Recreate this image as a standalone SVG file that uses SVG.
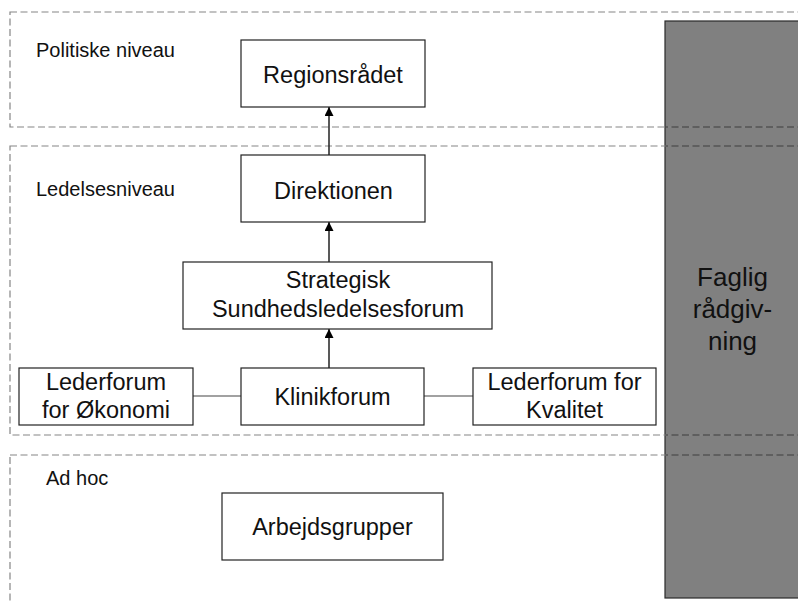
<svg xmlns="http://www.w3.org/2000/svg" width="798" height="603" viewBox="0 0 798 603">
<defs>
<marker id="arr" viewBox="0 0 10 10" refX="10" refY="5" markerWidth="9" markerHeight="9" markerUnits="userSpaceOnUse" orient="auto">
<path d="M0,0 L10,5 L0,10 z" fill="#000"/>
</marker>
<style>
.band{fill:none;stroke:#858585;stroke-width:1.2;stroke-dasharray:7,3.5}
.bandd{fill:none;stroke:#3c3c3c;stroke-width:1.2;stroke-dasharray:7,3.5}
.box{fill:#fff;stroke:#222;stroke-width:1.2}
.t{font-family:"Liberation Sans",Arial,sans-serif;font-size:23.5px;fill:#111;text-anchor:middle}
.f{font-family:"Liberation Sans",Arial,sans-serif;font-size:26px;fill:#111;text-anchor:middle}
.lbl{font-family:"Liberation Sans",Arial,sans-serif;font-size:20px;fill:#111}
.con{stroke:#222;stroke-width:1.5;fill:none}
.line{stroke:#444;stroke-width:1.2;fill:none}
</style>
</defs>
<rect width="798" height="603" fill="#fff"/>
<g id="faglig">
<rect x="665" y="21" width="140" height="577" fill="#808080" stroke="#2a2a2a" stroke-width="1.2"/>
<text class="f" x="732.5" y="286">Faglig</text>
<text class="f" x="732.5" y="318">rådgiv-</text>
<text class="f" x="732.5" y="350">ning</text>
</g>
<g id="bands">
<rect class="band" x="10" y="12" width="800" height="115"/>
<rect class="band" x="10" y="146" width="800" height="289"/>
<rect class="band" x="10" y="455" width="800" height="160"/>
<path class="bandd" d="M10,127 H810 M10,146 H810 M10,435 H810 M10,455 H810" stroke-dashoffset="0" clip-path="url(#gc)"/>
</g>
<clipPath id="gc"><rect x="665.6" y="21.6" width="140" height="576"/></clipPath>
<g id="labels">
<text class="lbl" x="36" y="57">Politiske niveau</text>
<text class="lbl" x="36" y="196">Ledelsesniveau</text>
<text class="lbl" x="46" y="485">Ad hoc</text>
</g>
<g id="connectors">
<line class="con" x1="329" y1="155" x2="329" y2="107" marker-end="url(#arr)"/>
<line class="con" x1="329" y1="262" x2="329" y2="222" marker-end="url(#arr)"/>
<line class="con" x1="329" y1="368" x2="329" y2="329" marker-end="url(#arr)"/>
<line class="line" x1="193" y1="396" x2="241" y2="396"/>
<line class="line" x1="424" y1="396" x2="473" y2="396"/>
</g>
<g id="regionsraadet">
<rect class="box" x="241" y="40" width="184" height="67"/>
<text class="t" x="333" y="83">Regionsrådet</text>
</g>
<g id="direktionen">
<rect class="box" x="241" y="155" width="184" height="67"/>
<text class="t" x="333.5" y="199">Direktionen</text>
</g>
<g id="strategisk">
<rect class="box" x="183" y="262" width="309" height="67"/>
<text class="t" x="338" y="288">Strategisk</text>
<text class="t" x="338" y="317">Sundhedsledelsesforum</text>
</g>
<g id="oekonomi">
<rect class="box" x="19" y="368" width="174" height="57"/>
<text class="t" x="106" y="390">Lederforum</text>
<text class="t" x="106" y="418">for Økonomi</text>
</g>
<g id="klinikforum">
<rect class="box" x="241" y="368" width="183" height="57"/>
<text class="t" x="332.5" y="405">Klinikforum</text>
</g>
<g id="kvalitet">
<rect class="box" x="473" y="368" width="183" height="57"/>
<text class="t" x="564.5" y="390">Lederforum for</text>
<text class="t" x="564.5" y="418">Kvalitet</text>
</g>
<g id="arbejdsgrupper">
<rect class="box" x="222" y="493" width="221" height="67"/>
<text class="t" x="332.5" y="535">Arbejdsgrupper</text>
</g>
</svg>
